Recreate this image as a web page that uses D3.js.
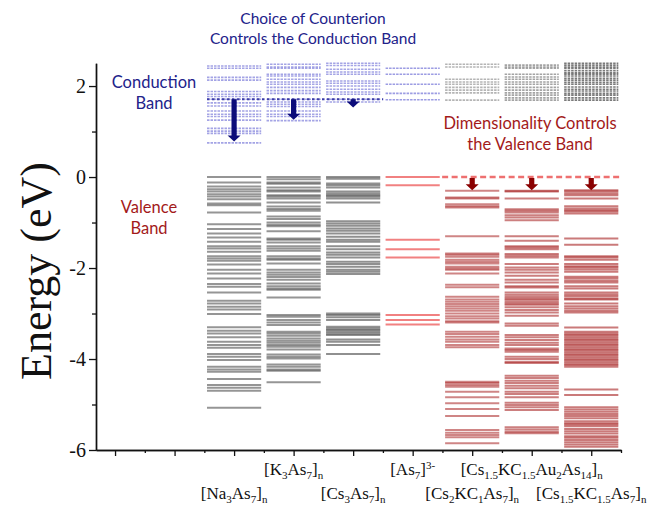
<!DOCTYPE html>
<html>
<head>
<meta charset="utf-8">
<script src="https://cdnjs.cloudflare.com/ajax/libs/d3/7.8.5/d3.min.js"></script>
<style>
    body { margin: 0; background: #fff; }
    svg text { font-family: "Liberation Serif", "Times New Roman", serif; }
    .note { font-family: Lato, "Open Sans", sans-serif !important; }
</style>
</head>
<body>
<div id="chart"></div>
<script>
// compounds (x positions of the columns) and their labels
const compounds = ["[Na_{3}As_{7}]_{n}", "[K_{3}As_{7}]_{n}", "[Cs_{3}As_{7}]_{n}", "[As_{7}]^{3-}",
    "[Cs_{2}KC_{1}As_{7}]_{n}", "[Cs_{1.5}KC_{1.5}Au_{2}As_{14}]_{n}", "[Cs_{1.5}KC_{1.5}As_{7}]_{n}"];
const positions = [3, 4, 5, 6, 7, 8, 9];

// conduction band levels, eV
const cb_na = [2.44, 2.39, 2.19, 2.13, 1.88, 1.82, 1.77, 1.71, 1.63, 1.56, 1.45, 1.38, 1.33, 1.25, 1.07, 1.01, 0.96, 0.75];
const cb_k = [2.48, 2.42, 2.39, 2.26, 2.22, 2.15, 2.09, 2.04, 1.97, 1.90, 1.84, 1.71, 1.65, 1.60, 1.55, 1.45, 1.38, 1.33, 1.24];
const cb_cs = [2.50, 2.45, 2.37, 2.31, 2.26, 2.11, 2.06, 2.00, 1.93, 1.87, 1.82, 1.71, 1.65];
const cb_as7 = [2.39, 2.26, 2.04, 1.84, 1.70];
const cb_cs2k = [2.48, 2.42, 2.15, 2.09, 2.04, 1.97, 1.91, 1.85, 1.69];
const cb_csau = [2.46, 2.42, 2.39, 2.26, 2.20, 2.15, 2.09, 2.04, 1.97, 1.91, 1.85, 1.80, 1.74, 1.69];
const cb_cs15 = [2.50, 2.46, 2.42, 2.39, 2.34, 2.29, 2.26, 2.22, 2.17, 2.13, 2.08, 2.04, 1.98, 1.93, 1.89, 1.84, 1.80, 1.74, 1.69];

// valence band levels, eV
const vb_na = [0.0, -0.12, -0.21, -0.27, -0.32, -0.38, -0.43, -0.49, -0.58, -0.62, -0.78, -1.04, -1.14, -1.24, -1.33, -1.42,
    -1.52, -1.57, -1.64, -1.74, -1.79, -1.84, -1.92, -2.04, -2.12, -2.23, -2.35, -2.41, -2.54, -2.72, -2.78, -2.85, -2.91,
    -3.01, -3.30, -3.38, -3.44, -3.52, -3.62, -3.69, -3.75, -3.89, -3.95, -4.02, -4.17, -4.23, -4.28, -4.44, -4.57, -4.63,
    -4.70, -5.07];
const vb_k = [0.0, -0.05, -0.12, -0.15, -0.23, -0.29, -0.32, -0.40, -0.43, -0.47, -0.56, -0.65, -0.70, -0.74, -0.87, -0.92,
    -1.00, -1.05, -1.08, -1.19, -1.35, -1.38, -1.44, -1.52, -1.57, -1.62, -1.74, -1.79, -1.82, -1.90, -2.04, -2.10, -2.15,
    -2.20, -2.26, -2.34, -2.40, -2.45, -2.48, -2.65, -3.03, -3.07, -3.14, -3.20, -3.25, -3.40, -3.44, -3.49, -3.55, -3.60,
    -3.64, -3.69, -3.73, -3.79, -3.90, -3.95, -3.99, -4.12, -4.17, -4.23, -4.26, -4.51];
const vb_cs = [0.0, -0.04, -0.14, -0.18, -0.23, -0.32, -0.36, -0.40, -0.43, -0.47, -0.56, -0.97, -1.02, -1.07, -1.13, -1.18,
    -1.24, -1.31, -1.38, -1.42, -1.52, -1.59, -1.66, -1.71, -1.77, -1.86, -1.91, -1.97, -2.04, -2.08, -2.13, -3.00, -3.03,
    -3.08, -3.14, -3.29, -3.33, -3.36, -3.40, -3.44, -3.47, -3.57, -3.62, -3.69, -3.89];
const vb_as7 = [0.0, -0.18, -1.38, -1.59, -1.77, -3.03, -3.14, -3.24];
const vb_cs2k = [-0.30, -0.45, -0.47, -0.60, -0.64, -0.67, -1.30, -1.68, -1.71, -1.75, -1.82, -1.86, -1.90, -1.97, -2.01,
    -2.04, -2.12, -2.37, -2.42, -2.63, -2.69, -2.74, -2.79, -2.84, -2.89, -2.94, -3.00, -3.06, -3.11, -3.17, -3.20, -3.40,
    -3.45, -3.51, -3.57, -3.62, -3.69, -3.74, -4.50, -4.53, -4.57, -4.61, -4.72, -4.84, -4.97, -5.10, -5.25, -5.56, -5.62,
    -5.67, -5.72, -5.85];
const vb_csau = [-0.30, -0.32, -0.47, -0.71, -0.74, -0.78, -0.84, -0.89, -0.95, -1.30, -1.40, -1.52, -1.55, -1.59, -1.69,
    -1.73, -1.77, -1.91, -1.99, -2.04, -2.10, -2.17, -2.26, -2.32, -2.40, -2.43, -2.54, -2.59, -2.63, -2.67, -2.70, -2.74,
    -2.78, -2.81, -2.86, -2.92, -2.98, -3.05, -3.22, -3.27, -3.47, -3.52, -3.58, -3.64, -3.69, -3.77, -3.80, -3.84, -3.95,
    -4.00, -4.06, -4.09, -4.37, -4.42, -4.48, -4.53, -4.59, -4.64, -4.72, -4.77, -4.84, -4.96, -5.01, -5.06, -5.12, -5.50,
    -5.55, -5.60, -5.63];
const vb_cs15 = [-0.29, -0.32, -0.36, -0.40, -0.47, -0.64, -0.69, -0.73, -0.76, -0.80, -1.35, -1.49, -1.74, -1.77, -1.82,
    -1.91, -1.96, -1.99, -2.03, -2.08, -2.19, -2.23, -2.28, -2.32, -2.40, -2.45, -2.54, -2.58, -2.62, -2.67, -2.69, -2.78,
    -2.84, -2.89, -2.94, -2.98, -3.31, -3.40, -3.44, -3.47, -3.51, -3.55, -3.58, -3.62, -3.66, -3.69, -3.73, -3.77, -3.80,
    -3.84, -3.88, -3.91, -3.95, -3.99, -4.02, -4.06, -4.10, -4.13, -4.17, -4.67, -4.79, -5.06, -5.11, -5.16, -5.21, -5.25,
    -5.30, -5.37, -5.41, -5.44, -5.48, -5.54, -5.59, -5.64, -5.70, -5.73, -5.78, -5.83, -5.88, -5.93];

// arrows: counterion shift of the conduction band, dimensionality shift of the valence band
const cb_ref = 1.71;
const cb_arrow_end = [0.78, 1.26, 1.53];
const vb_ref = 0.0;
const vb_arrow_end = [-0.29, -0.29, -0.29];

// ticks
const y_major = [-6, -4, -2, 0, 2];
const y_minor = [-5, -3, -1, 1];
const x_major = [1, 2, 3, 4, 5, 6, 7, 8, 9];
const x_minor = [1.5, 2.5, 3.5, 4.5, 5.5, 6.5, 7.5, 8.5, 9.5];


const width = 654, height = 505;
const navy = "#22228a", darkred = "#a31a1a";

const svg = d3.select("#chart").append("svg")
    .attr("width", width)
    .attr("height", height);

const xScale = d3.scaleLinear().domain([0.68, 9.5]).range([96, 621]);
const yScale = d3.scaleLinear().domain([-6, 2.5]).range([450, 63.3]);
const half = 0.455; // half width of a column, in x units

const cbSets = [cb_na, cb_k, cb_cs, cb_as7, cb_cs2k, cb_csau, cb_cs15];
const vbSets = [vb_na, vb_k, vb_cs, vb_as7, vb_cs2k, vb_csau, vb_cs15];

// column looks
const cbStyle = [
    {c: "#5a5ad0", o: 0.55}, {c: "#5a5ad0", o: 0.55}, {c: "#5a5ad0", o: 0.55}, {c: "#5a5ad0", o: 0.6},
    {c: "#777", o: 0.55}, {c: "#666", o: 0.6}, {c: "#333", o: 0.65}
];
const vbStyle = [
    {c: "#222", o: 0.48}, {c: "#222", o: 0.48}, {c: "#222", o: 0.5}, {c: "#f07a7a", o: 0.95},
    {c: "#9a0000", o: 0.48}, {c: "#9a0000", o: 0.5}, {c: "#9a0000", o: 0.52}
];

/* рівні енергії */
const levels = svg.append("g");
positions.forEach(function(p, i) {
    levels.selectAll(".cb" + i)
        .data(cbSets[i])
        .enter().append("line")
        .attr("class", "cb" + i)
        .attr("x1", xScale(p - half))
        .attr("x2", xScale(p + half))
        .attr("y1", d => yScale(d))
        .attr("y2", d => yScale(d))
        .attr("stroke", cbStyle[i].c)
        .attr("stroke-opacity", cbStyle[i].o)
        .attr("stroke-width", 1.6)
        .attr("stroke-dasharray", "2.5,1");

    levels.selectAll(".vb" + i)
        .data(vbSets[i])
        .enter().append("line")
        .attr("class", "vb" + i)
        .attr("x1", xScale(p - half))
        .attr("x2", xScale(p + half))
        .attr("y1", d => yScale(d))
        .attr("y2", d => yScale(d))
        .attr("stroke", vbStyle[i].c)
        .attr("stroke-opacity", vbStyle[i].o)
        .attr("stroke-width", 2);
});

/* reference lines */
svg.append("line")
    .attr("x1", xScale(positions[0] - half)).attr("x2", xScale(positions[2] + half + 0.05))
    .attr("y1", yScale(cb_ref)).attr("y2", yScale(cb_ref))
    .attr("stroke", "#3c3ca8").attr("stroke-width", 2.2)
    .attr("stroke-dasharray", "2.5,2.5");

svg.append("line")
    .attr("x1", xScale(positions[4] - half - 0.05)).attr("x2", xScale(positions[6] + half + 0.05))
    .attr("y1", yScale(vb_ref)).attr("y2", yScale(vb_ref))
    .attr("stroke", "#ee7070").attr("stroke-width", 2.5)
    .attr("stroke-dasharray", "6,3.5");

function arrow(x, y0, y1, color) {
    const sw = 2.6, hw = 6.5, hl = 6;
    const p = d3.path();
    p.moveTo(x - sw, y0);
    p.lineTo(x + sw, y0);
    p.lineTo(x + sw, y1 - hl);
    p.lineTo(x + hw, y1 - hl);
    p.lineTo(x, y1);
    p.lineTo(x - hw, y1 - hl);
    p.lineTo(x - sw, y1 - hl);
    p.closePath();
    svg.append("path").attr("d", p.toString()).attr("fill", color);
}

cb_arrow_end.forEach(function(e, i) {
    arrow(xScale(positions[i]), yScale(cb_ref), yScale(e), "#0c0c7a");
});
vb_arrow_end.forEach(function(e, i) {
    arrow(xScale(positions[4 + i]), yScale(vb_ref) + 1, yScale(e), "#8a0000");
});

/* осі */
const yAxis = svg.append("g").attr("transform", "translate(" + xScale.range()[0] + ",0)");
yAxis.call(d3.axisLeft(yScale).tickValues(y_major).tickSize(7).tickSizeOuter(0).tickFormat(d => String(d)));
yAxis.append("g").call(d3.axisLeft(yScale).tickValues(y_minor).tickSize(4).tickSizeOuter(0).tickFormat(""));

const xAxis = svg.append("g").attr("transform", "translate(0," + yScale(-6) + ")");
xAxis.call(d3.axisBottom(xScale).tickValues(x_major).tickSize(6).tickSizeOuter(0).tickFormat(""));
xAxis.append("g").call(d3.axisBottom(xScale).tickValues(x_minor).tickSize(3).tickSizeOuter(0).tickFormat(""));

svg.selectAll(".domain").attr("stroke", "#111").attr("stroke-width", 1.4);
svg.selectAll(".tick line").attr("stroke", "#111").attr("stroke-width", 1.3);
yAxis.selectAll("text")
    .attr("x", -10)
    .style("font-size", "20px")
    .style("font-family", "Liberation Serif")
    .attr("fill", "#111");

svg.append("text")
    .attr("transform", "translate(51,271) rotate(-90)")
    .attr("text-anchor", "middle")
    .style("font-size", "44px")
    .attr("fill", "#111")
    .text("Energy (eV)");

/* назви сполук з індексами */
compounds.forEach(function(label, i) {
    const t = svg.append("text")
        .attr("x", xScale(positions[i]))
        .attr("y", i % 2 === 1 ? 475 : 499)
        .attr("text-anchor", "middle")
        .style("font-size", "17px")
        .attr("fill", "#111");
    const parts = label.split(/(_\{[^}]*\}|\^\{[^}]*\})/).filter(s => s.length);
    let shift = 0;
    parts.forEach(function(s) {
        let target = 0, txt = s, small = false;
        if (s[0] === "_") { target = 4; txt = s.slice(2, -1); small = true; }
        if (s[0] === "^") { target = -6; txt = s.slice(2, -1); small = true; }
        t.append("tspan")
            .attr("dy", target - shift)
            .style("font-size", small ? "11px" : "17px")
            .text(txt);
        shift = target;
    });
});

/* підписи */
function note(lines, x, y, color, size) {
    const t = svg.append("text")
        .attr("class", "note")
        .attr("x", x).attr("y", y)
        .attr("text-anchor", "middle")
        .style("font-size", size + "px")
        .attr("fill", color);
    lines.forEach(function(l, i) {
        t.append("tspan").attr("x", x).attr("dy", i === 0 ? 0 : "1.3em").text(l);
    });
}

note(["Choice of Counterion", "Controls the Conduction Band"], 313, 24, navy, 15.5);
note(["Conduction", "Band"], 154, 88, navy, 16.5);
note(["Valence", "Band"], 149, 213, darkred, 16.5);
note(["Dimensionality Controls", "the Valence Band"], 530, 129, darkred, 16.5);
</script>
</body>
</html>
